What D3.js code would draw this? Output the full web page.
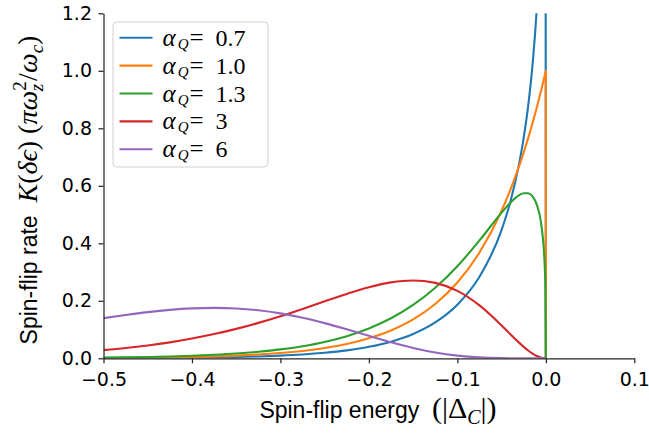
<!DOCTYPE html>
<html><head><meta charset="utf-8">
<script src="https://cdn.jsdelivr.net/npm/d3@7"></script>
<style>body{margin:0;background:#fff}svg{display:block}text{white-space:pre}</style>
</head><body>
<svg id="c" width="649" height="433"></svg>
<script>
// ---- data ----
const energies = [-0.5,-0.475,-0.45,-0.425,-0.4,-0.375,-0.35,-0.325,-0.3,-0.275,-0.25,-0.225,-0.2,-0.175,-0.15,-0.125,-0.1,-0.075,-0.05,-0.04,-0.03,-0.025,-0.02,-0.015,-0.01,-0.005,-0.002,-0.001,-0.0005,0];
const alpha07 = [0.0006,0.0008,0.0011,0.0016,0.0023,0.0032,0.0046,0.0065,0.0093,0.0133,0.0192,0.0276,0.0399,0.0579,0.0847,0.1248,0.1863,0.2834,0.4467,0.5457,0.6798,0.7675,0.8772,1.0222,1.234,1.624,2.225,2.777,3.44,0];
const alpha10 = [0.0013,0.0018,0.0025,0.0035,0.0048,0.0067,0.0094,0.0131,0.0183,0.0256,0.0357,0.0498,0.0695,0.0970,0.1353,0.1889,0.2636,0.3679,0.5134,0.5867,0.6703,0.7165,0.7659,0.8187,0.8752,0.9355,0.9737,0.9868,0.9934,1.0];
const alpha13 = [0.0025,0.0034,0.0047,0.0065,0.0089,0.0122,0.0166,0.0227,0.0309,0.0421,0.0570,0.0771,0.1039,0.1393,0.1856,0.2453,0.3202,0.4099,0.5066,0.5414,0.5673,0.5742,0.5740,0.5629,0.5328,0.4626,0.3657,0.3011,0.2462,0];
const alpha3  = [0.0283,0.0356,0.0446,0.0555,0.0687,0.0842,0.1024,0.1232,0.1465,0.1718,0.1982,0.2240,0.2470,0.2640,0.2707,0.2623,0.2343,0.1839,0.1141,0.0834,0.0536,0.0398,0.0272,0.0164,0.0078,0.0021,0.0003,0,0,0];
const alpha6  = [0.1397,0.1508,0.1606,0.1684,0.1736,0.1755,0.1734,0.1671,0.1563,0.1412,0.1223,0.1008,0.0781,0.0559,0.0361,0.0202,0.0093,0.0031,0.0006,0.0002,0.0001,0,0,0,0,0,0,0,0,0];
const seriesNames = ["0.7","1.0","1.3","3","6"];
const seriesValues = [alpha07, alpha10, alpha13, alpha3, alpha6];
const colors = ["#1f77b4","#ff7f0e","#2ca02c","#d62728","#9467bd"];
const xTicks = [-0.5,-0.4,-0.3,-0.2,-0.1,0.0,0.1];
const yTicks = [0.0,0.2,0.4,0.6,0.8,1.0,1.2];

const svg = d3.select("#c");
const x = d3.scaleLinear().domain([-0.5,0.1]).range([103.5,634.3]);
const y = d3.scaleLinear().domain([0,1.2]).range([358.3,13.3]);
const axisColor = "#262626";

svg.append("clipPath").attr("id","plotclip").append("rect")
  .attr("x",x(-0.5)).attr("y",y(1.2)).attr("width",x(0.1)-x(-0.5)).attr("height",y(0)-y(1.2));

const smooth = d3.line().x(d=>x(d[0])).y(d=>y(d[1])).curve(d3.curveMonotoneX);
const lines = svg.append("g").attr("clip-path","url(#plotclip)");
seriesValues.forEach((vals,i)=>{
  const pts = energies.map((e,j)=>[e,vals[j]]);
  const last = pts[pts.length-1];
  const d = smooth(pts) + "L" + x(last[0]) + "," + y(0);
  lines.append("path").attr("d",d).attr("fill","none")
    .attr("stroke",colors[i]).attr("stroke-width",2.1).attr("stroke-linejoin","round");
});

// axes
const fmt = d3.format(".1f");
const gx = svg.append("g").attr("transform",`translate(0,${y(0)})`)
  .call(d3.axisBottom(x).tickValues(xTicks).tickFormat(fmt).tickSize(5).tickSizeOuter(0).tickPadding(9.5));
const gy = svg.append("g").attr("transform",`translate(${x(-0.5)},0)`)
  .call(d3.axisLeft(y).tickValues(yTicks).tickFormat(fmt).tickSize(5).tickSizeOuter(0).tickPadding(6.5));
[gx,gy].forEach(g=>{
  g.select(".domain").attr("stroke",axisColor).attr("stroke-width",1.25);
  g.selectAll(".tick line").attr("stroke",axisColor).attr("stroke-width",1.25);
  g.selectAll(".tick text").attr("fill","#000").style("font-family","DejaVu Sans").style("font-size","19px");
});

// legend
const ser = "'Liberation Serif', 'DejaVu Serif', serif";
const lg = svg.append("g");
lg.append("rect").attr("x",113).attr("y",22).attr("width",155).attr("height",145).attr("rx",4)
  .attr("fill","#fff").attr("fill-opacity",0.8).attr("stroke","#d0d0d0").attr("stroke-width",1);
seriesNames.forEach((n,i)=>{
  const cy = 37.7 + i*27.9;
  lg.append("line").attr("x1",119.5).attr("x2",152.5).attr("y1",cy).attr("y2",cy)
    .attr("stroke",colors[i]).attr("stroke-width",2.1);
  const t = lg.append("text").attr("x",162.5).attr("y",cy+8)
    .style("font-family",ser).style("font-size","24px");
  t.append("tspan").style("font-style","italic").style("font-size","25px").text("α");
  t.append("tspan").style("font-style","italic").style("font-size","15px").attr("dy",3).attr("dx",2).text("Q");
  t.append("tspan").attr("dy",-3).attr("dx",1).style("font-size","25px").text("=");
  t.append("tspan").attr("dx",12).text(n);
});

// x label
const xl = svg.append("text").attr("x",378).attr("y",418).attr("text-anchor","middle");
xl.append("tspan").style("font-family","'Liberation Sans', Arial, sans-serif").style("font-size","23px").text("Spin-flip energy  ");
const xm = [["(|Δ",{}],["C",{italic:1,small:1,dy:6}],["|)",{dy:-6}]];
xm.forEach(([s,o])=>{
  const ts = xl.append("tspan").style("font-family",ser).style("font-size",o.small?"20px":"30px").text(s);
  if(o.italic) ts.style("font-style","italic");
  if(o.dy) ts.attr("dy",o.dy);
});

// y label
const yl = svg.append("text").attr("transform","translate(37,190) rotate(-90)").attr("text-anchor","middle");
yl.append("tspan").style("font-family","'Liberation Sans', Arial, sans-serif").style("font-size","23px").text("Spin-flip rate  ");
const parts = [
  ["K",{it:1}],["(",{}],["δϵ",{it:1}],[")",{}],[" (",{}],["πω",{it:1}],
  ["2",{sm:1,dy:-11}],["z",{sm:1,it:1,dy:17,dx:-10}],["/",{dy:-6,dx:3}],["ω",{it:1}],["c",{it:1,sm:1,dy:6}],[")",{dy:-6}]
];
parts.forEach(([s,o])=>{
  const ts = yl.append("tspan").style("font-family",ser).style("font-size",o.sm?"19px":"28px").text(s);
  if(o.it) ts.style("font-style","italic");
  if(o.dy) ts.attr("dy",o.dy);
  if(o.dx) ts.attr("dx",o.dx);
});
</script>
</body></html>
